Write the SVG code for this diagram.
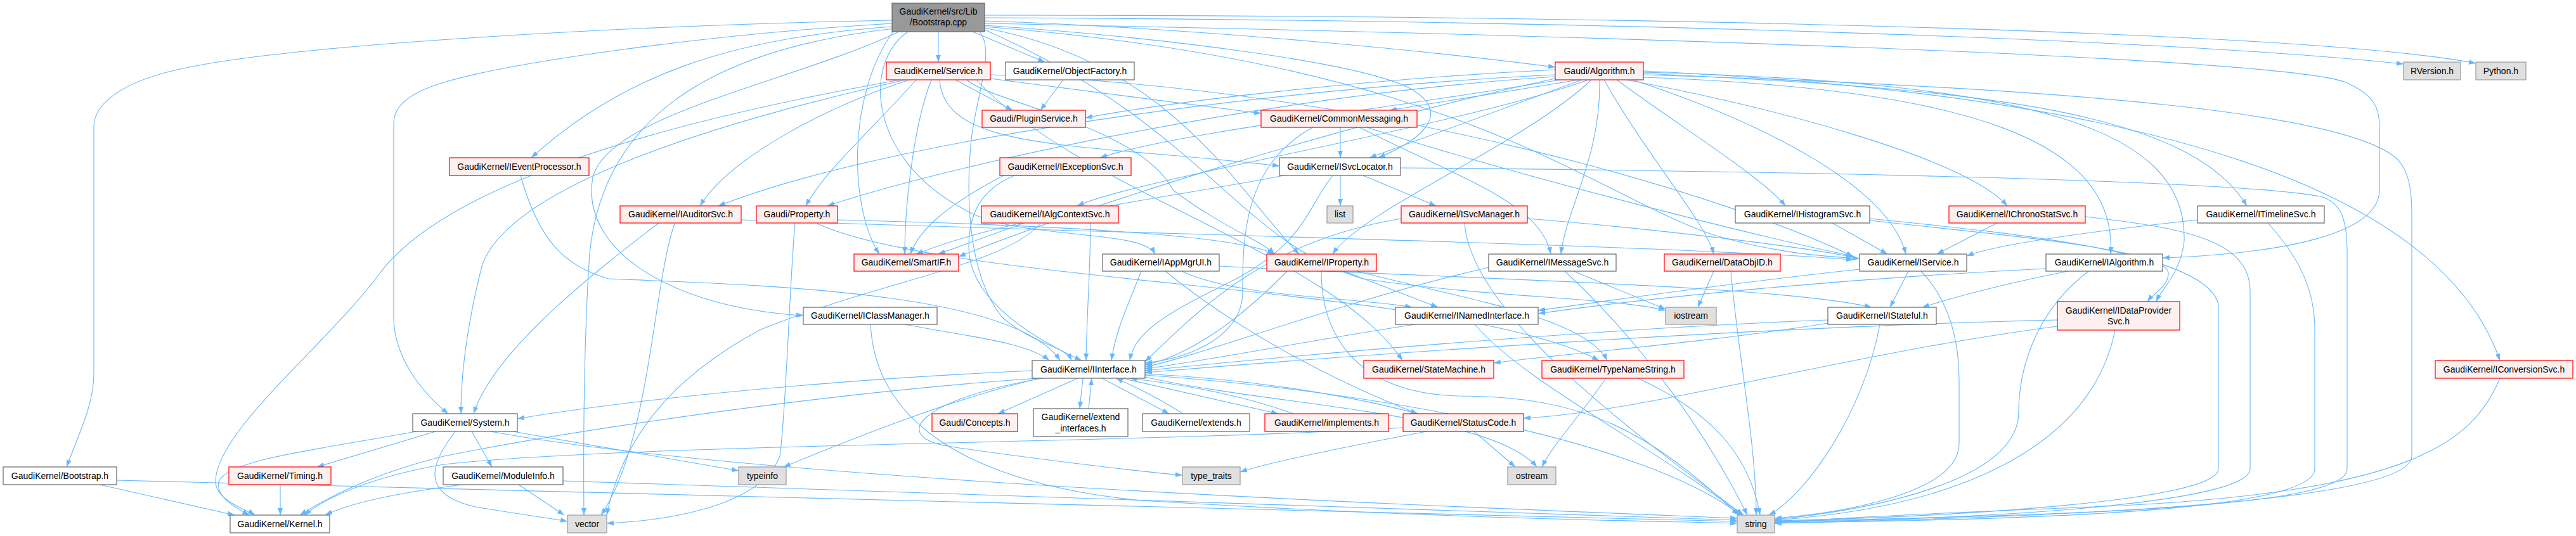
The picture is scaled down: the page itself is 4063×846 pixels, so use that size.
<svg xmlns="http://www.w3.org/2000/svg" width="4063" height="846" viewBox="0 0 4063 846">
<defs>
<marker id="ah" viewBox="0 0 11 8" refX="11" refY="4" markerWidth="11" markerHeight="8" orient="auto" markerUnits="userSpaceOnUse"><path d="M0,0 L11,4 L0,8 z" fill="#63b8ff"/></marker>
<style>
#edges path{fill:none;stroke:#63b8ff;stroke-width:1.1;marker-end:url(#ah)}
.nd rect{stroke-width:1.2}
.root rect{fill:#999999;stroke:#666666}
.red rect{fill:#fff0f0;stroke:#ff0000}
.wht rect{fill:#ffffff;stroke:#666666}
.ext rect{fill:#e0e0e0;stroke:#999999}
.nd text{font-family:"Liberation Sans",Arial,sans-serif;font-size:14px;fill:#000;text-anchor:middle}
</style>
</defs>
<rect width="4063" height="846" fill="#ffffff"/>
<g id="edges">
<path d="M1407,32 C1000,40 450,70 280,110 C190,130 148,165 148,200 L148,590 C148,640 122,690 105,737"/>
<path d="M1480,50 L1480,98"/>
<path d="M1534,50 L1648,98"/>
<path d="M1553,33 C1900,45 2250,80 2453,106"/>
<path d="M1553,28 C2500,32 3400,60 3791,101"/>
<path d="M1553,24 C2600,24 3650,50 3905,100"/>
<path d="M1407,42 C1150,60 980,120 838,249"/>
<path d="M1407,37 C1100,55 800,100 700,130 C640,148 621,170 621,195 L621,500 C621,560 660,615 707,653"/>
<path d="M1553,40 C1850,60 2150,100 2225,140 C2285,175 2255,215 2174,249"/>
<path d="M1432,50 C1360,100 1370,250 1520,330 C1600,380 1800,360 1822,401"/>
<path d="M1418,50 C1250,130 960,180 935,280 C915,390 1050,485 1267,498"/>
<path d="M1545,50 C1570,80 1540,150 1532,220 C1524,300 1524,430 1580,500 C1630,545 1680,545 1690,569"/>
<path d="M1553,44 C1850,100 1950,300 2049,401"/>
<path d="M1553,42 C2300,100 2500,300 2700,370 C2800,400 2880,405 2933,408"/>
<path d="M1553,37 C2500,55 3600,90 3700,130 C3745,150 3753,170 3753,200 L3753,300 C3753,370 3600,400 3411,407"/>
<path d="M1410,48 C1335,150 1340,330 1387,401"/>
<path d="M1553,47 C1900,200 1950,380 2150,440 C2350,470 2550,470 2627,490"/>
<path d="M1410,45 C1100,80 950,200 930,400 C920,550 920,700 921,813"/>
<path d="M1507,126 L1597,174"/>
<path d="M1562,124 L1989,179"/>
<path d="M1482,126 C1490,240 1700,225 2018,262"/>
<path d="M1434,126 C1300,170 1150,250 1104,325"/>
<path d="M1445,126 C1380,200 1300,270 1271,325"/>
<path d="M1469,126 C1440,200 1427,330 1427,401"/>
<path d="M1525,126 C1560,160 1800,200 1850,300 C1930,360 1990,380 2010,401"/>
<path d="M1562,118 C2200,140 2750,320 2923,405"/>
<path d="M1420,126 C1000,200 700,300 600,430 C520,540 340,680 340,760 C340,790 390,805 402,813"/>
<path d="M1428,126 C1100,200 800,300 760,420 C740,500 727,580 727,653"/>
<path d="M1540,126 C1700,300 2100,400 2212,569"/>
<path d="M1677,126 L1641,174"/>
<path d="M2453,110 C2150,125 1850,160 1712,186"/>
<path d="M2490,126 L2192,174"/>
<path d="M2460,126 C2200,170 1850,210 1735,249"/>
<path d="M2495,126 L2160,249"/>
<path d="M2505,126 C2300,200 1800,280 1699,325"/>
<path d="M2510,126 C2400,230 2150,330 2102,401"/>
<path d="M2523,126 C2525,250 2470,330 2462,401"/>
<path d="M2530,126 C2600,250 2690,350 2703,401"/>
<path d="M2550,126 C2650,200 2780,280 2816,325"/>
<path d="M2565,126 C2800,170 3100,250 3166,325"/>
<path d="M2592,116 C3100,140 3450,170 3544,325"/>
<path d="M2575,126 C2800,200 2980,300 3006,401"/>
<path d="M2592,122 C3100,140 3340,220 3329,401"/>
<path d="M2592,114 C3200,130 3450,200 3445,380 C3440,430 3410,455 3401,476"/>
<path d="M2592,112 C3400,150 3850,300 3943,569"/>
<path d="M2453,118 C2000,140 1400,220 1133,325"/>
<path d="M2453,121 C2000,150 1500,260 1305,325"/>
<path d="M2453,124 C2100,200 1700,330 1512,405"/>
<path d="M2592,118 C3300,140 3700,180 3780,250 C3800,270 3804,300 3804,340 L3804,720 C3804,790 3300,815 2799,826"/>
<path d="M821,277 C850,380 890,420 960,440 C1200,450 1600,460 1672,569"/>
<path d="M1039,352 C950,420 780,550 747,653"/>
<path d="M1169,347 C1800,370 2600,385 2923,410"/>
<path d="M1064,353 C1030,450 1025,700 948,813"/>
<path d="M1321,347 C1650,355 1950,370 2010,401"/>
<path d="M1254,353 C1245,450 1240,650 1230,720 C1200,800 1050,822 957,826"/>
<path d="M1289,353 C1500,450 2300,450 2522,569"/>
<path d="M1615,352 L1480,401"/>
<path d="M1720,352 C1720,420 1714,500 1713,569"/>
<path d="M1641,353 C1580,420 1400,440 1200,520 C1050,600 980,700 957,813"/>
<path d="M1583,277 C1500,320 1450,360 1436,401"/>
<path d="M1600,277 C1545,300 1528,340 1528,390 C1528,460 1600,520 1706,569"/>
<path d="M2114,277 L2114,325"/>
<path d="M2150,277 L2265,325"/>
<path d="M2025,277 C1800,320 1600,340 1445,401"/>
<path d="M2102,277 C2060,330 2060,380 1950,440 C1850,490 1790,520 1782,569"/>
<path d="M2209,265 C2600,268 3500,280 3660,310 C3695,320 3702,350 3702,400 L3702,740 C3702,800 3300,812 2799,823"/>
<path d="M2114,201 L2114,249"/>
<path d="M2144,201 C2300,280 2430,320 2446,401"/>
<path d="M2071,201 C1960,260 1960,380 1960,460 C1960,530 1880,565 1806,573"/>
<path d="M2156,201 C2400,280 2800,380 2923,404"/>
<path d="M2409,345 C2600,360 2850,390 2923,406"/>
<path d="M2210,345 C2000,380 1900,480 1806,571"/>
<path d="M2310,352 C2320,500 2600,700 2750,813"/>
<path d="M2890,352 L2977,401"/>
<path d="M2949,348 C3200,375 3415,395 3420,430 C3422,450 3395,465 3387,476"/>
<path d="M2949,345 C3200,370 3480,400 3499,480 L3499,740 C3499,790 3100,815 2799,822"/>
<path d="M3150,352 L3055,401"/>
<path d="M3289,342 C3450,360 3549,380 3549,460 L3549,740 C3549,790 3200,818 2799,824"/>
<path d="M3466,347 C3300,365 3150,385 3102,404"/>
<path d="M3578,353 C3620,400 3651,450 3651,520 L3651,740 C3651,800 3300,820 2799,825"/>
<path d="M1800,428 C1780,480 1760,520 1753,569"/>
<path d="M1864,428 C1950,470 2150,470 2227,485"/>
<path d="M1838,428 C1950,520 2100,600 2236,653"/>
<path d="M1923,420 C2300,440 2800,450 2952,485"/>
<path d="M2120,428 L2268,485"/>
<path d="M2030,428 C1960,500 1880,560 1806,576"/>
<path d="M2084,428 C2084,520 2130,620 2300,625 C2500,625 2600,680 2742,813"/>
<path d="M2140,428 C2300,470 2500,500 2535,569"/>
<path d="M2348,422 C2100,480 1900,560 1806,579"/>
<path d="M2482,428 L2627,488"/>
<path d="M2468,428 C2600,550 2700,700 2756,813"/>
<path d="M2703,428 L2678,485"/>
<path d="M2730,428 C2740,550 2770,700 2770,813"/>
<path d="M3010,428 L2981,485"/>
<path d="M2933,425 C2700,450 2500,480 2426,490"/>
<path d="M3030,428 C3080,480 3090,550 3090,600 L3090,700 C3090,780 2900,810 2799,818"/>
<path d="M3262,428 C3150,450 3080,470 3032,485"/>
<path d="M3227,424 C2900,440 2600,470 2426,495"/>
<path d="M3294,428 C3200,500 3184,600 3184,650 C3184,760 2950,805 2799,820"/>
<path d="M1427,512 C1520,530 1620,540 1655,569"/>
<path d="M1373,512 C1380,650 1500,760 1800,790 C2300,820 2600,822 2740,826"/>
<path d="M2232,512 C2050,540 1900,570 1806,582"/>
<path d="M2326,512 C2400,600 2600,700 2748,813"/>
<path d="M2883,505 C2500,520 2050,560 1806,585"/>
<path d="M2883,510 C2700,540 2450,560 2356,573"/>
<path d="M2965,512 C2940,650 2850,780 2790,813"/>
<path d="M3245,505 C2800,515 2200,555 1806,588"/>
<path d="M3245,515 C2900,560 2600,650 2403,660"/>
<path d="M3336,521 C3300,700 3100,800 2799,821"/>
<path d="M1700,597 L1574,653"/>
<path d="M1708,597 L1703,645"/>
<path d="M1717,645 L1722,597"/>
<path d="M1738,597 L1844,653"/>
<path d="M1866,653 C1830,630 1790,610 1760,597"/>
<path d="M1770,597 L2016,653"/>
<path d="M2040,653 C1950,620 1850,605 1782,597"/>
<path d="M1637,597 C1300,620 900,680 700,720 C620,740 540,770 473,813"/>
<path d="M1628,585 C1300,600 1000,630 816,661"/>
<path d="M1640,597 C1500,630 1350,690 1236,737"/>
<path d="M1645,597 C1450,630 1400,690 1500,705 C1600,720 1800,745 1865,750"/>
<path d="M1806,590 C2000,600 2150,630 2236,653"/>
<path d="M1806,592 C2200,620 2600,700 2745,813"/>
<path d="M1806,595 C2000,640 2350,650 2424,737"/>
<path d="M2325,681 L2390,737"/>
<path d="M2250,681 C2150,700 2000,730 1956,745"/>
<path d="M2213,675 C1800,700 1000,700 700,733 C600,750 520,780 480,813"/>
<path d="M2533,597 C2490,660 2450,700 2432,737"/>
<path d="M2583,597 C2700,650 2760,720 2776,813"/>
<path d="M656,681 C500,710 360,725 345,760 C340,785 370,800 393,813"/>
<path d="M687,681 L500,737"/>
<path d="M744,681 L776,737"/>
<path d="M809,681 L1165,743"/>
<path d="M718,681 C680,730 660,780 750,800 C820,812 870,818 895,823"/>
<path d="M774,681 C1200,760 2300,800 2740,818"/>
<path d="M729,765 C650,775 560,790 513,813"/>
<path d="M818,765 L890,813"/>
<path d="M888,759 C1500,780 2300,805 2740,821"/>
<path d="M442,765 L442,813"/>
<path d="M157,765 L370,813"/>
<path d="M184,758 C800,780 2000,800 2740,823"/>
<path d="M3943,597 C3900,700 3800,780 3300,800 C3000,812 2850,820 2799,826"/>
</g>
<g id="n_boot_cpp" class="nd root"><rect x="1407" y="5" width="146" height="45"/><text x="1480" y="23">GaudiKernel/src/Lib</text><text x="1480" y="40">/Bootstrap.cpp</text></g>
<g id="n_service" class="nd red"><rect x="1398" y="98" width="164" height="28"/><text x="1480" y="117">GaudiKernel/Service.h</text></g>
<g id="n_objfac" class="nd wht"><rect x="1586" y="98" width="203" height="28"/><text x="1687.5" y="117">GaudiKernel/ObjectFactory.h</text></g>
<g id="n_alg" class="nd red"><rect x="2453" y="98" width="139" height="28"/><text x="2522.5" y="117">Gaudi/Algorithm.h</text></g>
<g id="n_rversion" class="nd ext"><rect x="3791" y="98" width="90" height="28"/><text x="3836" y="117">RVersion.h</text></g>
<g id="n_python" class="nd ext"><rect x="3905" y="98" width="79" height="28"/><text x="3944.5" y="117">Python.h</text></g>
<g id="n_plugin" class="nd red"><rect x="1549" y="174" width="163" height="27"/><text x="1630.5" y="192">Gaudi/PluginService.h</text></g>
<g id="n_commonmsg" class="nd red"><rect x="1989" y="174" width="246" height="27"/><text x="2112" y="192">GaudiKernel/CommonMessaging.h</text></g>
<g id="n_ieventproc" class="nd red"><rect x="709" y="249" width="220" height="28"/><text x="819" y="268">GaudiKernel/IEventProcessor.h</text></g>
<g id="n_iexception" class="nd red"><rect x="1577" y="249" width="207" height="28"/><text x="1680.5" y="268">GaudiKernel/IExceptionSvc.h</text></g>
<g id="n_isvclocator" class="nd wht"><rect x="2018" y="249" width="191" height="28"/><text x="2113.5" y="268">GaudiKernel/ISvcLocator.h</text></g>
<g id="n_iauditor" class="nd red"><rect x="978" y="325" width="191" height="27"/><text x="1073.5" y="343">GaudiKernel/IAuditorSvc.h</text></g>
<g id="n_property" class="nd red"><rect x="1193" y="325" width="128" height="27"/><text x="1257" y="343">Gaudi/Property.h</text></g>
<g id="n_ialgcontext" class="nd red"><rect x="1548" y="325" width="216" height="27"/><text x="1656" y="343">GaudiKernel/IAlgContextSvc.h</text></g>
<g id="n_list" class="nd ext"><rect x="2093" y="325" width="41" height="27"/><text x="2113.5" y="343">list</text></g>
<g id="n_isvcmanager" class="nd red"><rect x="2210" y="325" width="199" height="27"/><text x="2309.5" y="343">GaudiKernel/ISvcManager.h</text></g>
<g id="n_ihistogram" class="nd wht"><rect x="2737" y="325" width="212" height="27"/><text x="2843" y="343">GaudiKernel/IHistogramSvc.h</text></g>
<g id="n_ichrono" class="nd red"><rect x="3074" y="325" width="215" height="27"/><text x="3181.5" y="343">GaudiKernel/IChronoStatSvc.h</text></g>
<g id="n_itimeline" class="nd wht"><rect x="3466" y="325" width="200" height="27"/><text x="3566" y="343">GaudiKernel/ITimelineSvc.h</text></g>
<g id="n_smartif" class="nd red"><rect x="1347" y="401" width="165" height="27"/><text x="1429.5" y="419">GaudiKernel/SmartIF.h</text></g>
<g id="n_iappmgrui" class="nd wht"><rect x="1739" y="401" width="184" height="27"/><text x="1831" y="419">GaudiKernel/IAppMgrUI.h</text></g>
<g id="n_iproperty" class="nd red"><rect x="1998" y="401" width="173" height="27"/><text x="2084.5" y="419">GaudiKernel/IProperty.h</text></g>
<g id="n_imessage" class="nd wht"><rect x="2348" y="401" width="201" height="27"/><text x="2448.5" y="419">GaudiKernel/IMessageSvc.h</text></g>
<g id="n_dataobjid" class="nd red"><rect x="2625" y="401" width="183" height="27"/><text x="2716.5" y="419">GaudiKernel/DataObjID.h</text></g>
<g id="n_iservice" class="nd wht"><rect x="2933" y="401" width="169" height="27"/><text x="3017.5" y="419">GaudiKernel/IService.h</text></g>
<g id="n_ialgorithm" class="nd wht"><rect x="3227" y="401" width="184" height="27"/><text x="3319" y="419">GaudiKernel/IAlgorithm.h</text></g>
<g id="n_iclassmgr" class="nd wht"><rect x="1267" y="485" width="211" height="27"/><text x="1372.5" y="503">GaudiKernel/IClassManager.h</text></g>
<g id="n_inamed" class="nd wht"><rect x="2201" y="485" width="225" height="27"/><text x="2313.5" y="503">GaudiKernel/INamedInterface.h</text></g>
<g id="n_iostream" class="nd ext"><rect x="2627" y="485" width="80" height="27"/><text x="2667" y="503">iostream</text></g>
<g id="n_istateful" class="nd wht"><rect x="2883" y="485" width="171" height="27"/><text x="2968.5" y="503">GaudiKernel/IStateful.h</text></g>
<g id="n_idataprov" class="nd red"><rect x="3245" y="476" width="193" height="45"/><text x="3341.5" y="495">GaudiKernel/IDataProvider</text><text x="3341.5" y="512">Svc.h</text></g>
<g id="n_iinterface" class="nd wht"><rect x="1628" y="569" width="178" height="28"/><text x="1717" y="588">GaudiKernel/IInterface.h</text></g>
<g id="n_statemachine" class="nd red"><rect x="2151" y="569" width="205" height="28"/><text x="2253.5" y="588">GaudiKernel/StateMachine.h</text></g>
<g id="n_typename" class="nd red"><rect x="2432" y="569" width="224" height="28"/><text x="2544" y="588">GaudiKernel/TypeNameString.h</text></g>
<g id="n_iconversion" class="nd red"><rect x="3841" y="569" width="217" height="28"/><text x="3949.5" y="588">GaudiKernel/IConversionSvc.h</text></g>
<g id="n_system" class="nd wht"><rect x="651" y="653" width="165" height="28"/><text x="733.5" y="672">GaudiKernel/System.h</text></g>
<g id="n_concepts" class="nd red"><rect x="1470" y="653" width="135" height="28"/><text x="1537.5" y="672">Gaudi/Concepts.h</text></g>
<g id="n_extendif" class="nd wht"><rect x="1630" y="645" width="149" height="44"/><text x="1704.5" y="663">GaudiKernel/extend</text><text x="1704.5" y="681">_interfaces.h</text></g>
<g id="n_extends" class="nd wht"><rect x="1802" y="653" width="169" height="28"/><text x="1886.5" y="672">GaudiKernel/extends.h</text></g>
<g id="n_implements" class="nd red"><rect x="1995" y="653" width="195" height="28"/><text x="2092.5" y="672">GaudiKernel/implements.h</text></g>
<g id="n_statuscode" class="nd red"><rect x="2213" y="653" width="190" height="28"/><text x="2308" y="672">GaudiKernel/StatusCode.h</text></g>
<g id="n_bootstrap_h" class="nd wht"><rect x="5" y="737" width="179" height="28"/><text x="94.5" y="756">GaudiKernel/Bootstrap.h</text></g>
<g id="n_timing" class="nd red"><rect x="361" y="737" width="161" height="28"/><text x="441.5" y="756">GaudiKernel/Timing.h</text></g>
<g id="n_moduleinfo" class="nd wht"><rect x="699" y="737" width="189" height="28"/><text x="793.5" y="756">GaudiKernel/ModuleInfo.h</text></g>
<g id="n_typeinfo" class="nd ext"><rect x="1165" y="737" width="75" height="28"/><text x="1202.5" y="756">typeinfo</text></g>
<g id="n_typetraits" class="nd ext"><rect x="1865" y="737" width="91" height="28"/><text x="1910.5" y="756">type_traits</text></g>
<g id="n_ostream" class="nd ext"><rect x="2378" y="737" width="76" height="28"/><text x="2416" y="756">ostream</text></g>
<g id="n_kernel" class="nd wht"><rect x="363" y="813" width="157" height="28"/><text x="441.5" y="832">GaudiKernel/Kernel.h</text></g>
<g id="n_vector" class="nd ext"><rect x="895" y="813" width="62" height="28"/><text x="926" y="832">vector</text></g>
<g id="n_string" class="nd ext"><rect x="2740" y="813" width="59" height="28"/><text x="2769.5" y="832">string</text></g>
</svg>
